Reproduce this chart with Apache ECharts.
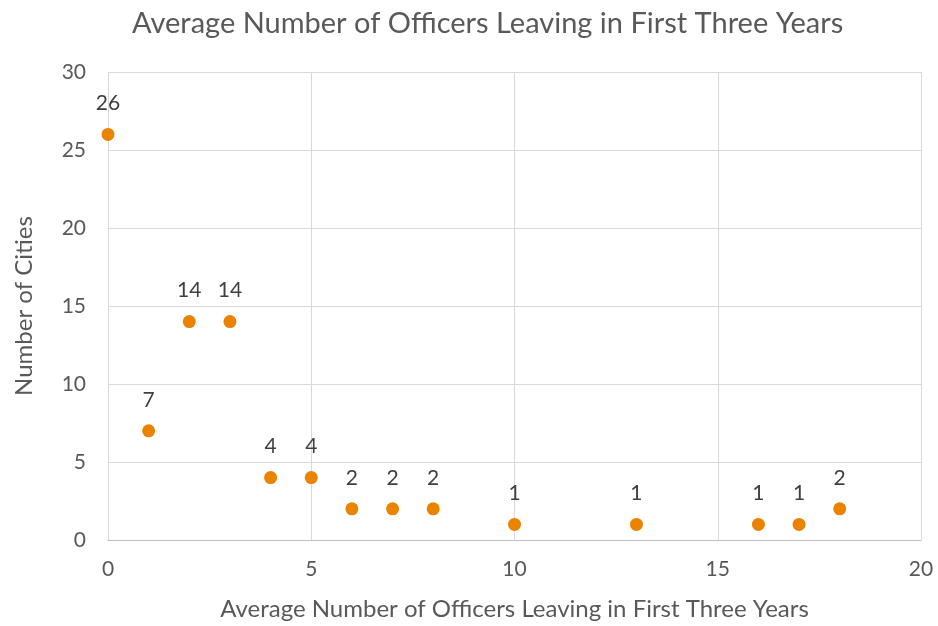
<!DOCTYPE html>
<html>
<head>
<meta charset="utf-8">
<script src="https://cdn.jsdelivr.net/npm/echarts@6/dist/echarts.min.js"></script>
<style>
  html, body { margin: 0; padding: 0; background: #fff; }
  #chart { width: 938px; height: 626px; }
</style>
</head>
<body>
<div id="chart"></div>
<script>
// average officers leaving (x) vs number of cities (y)
const officersLeaving = [0, 1, 2, 3, 4, 5, 6, 7, 8, 10, 13, 16, 17, 18]
const cityCounts = [26, 7, 14, 14, 4, 4, 2, 2, 2, 1, 1, 1, 1, 2]

const font = "Lato, 'Open Sans', sans-serif"
const chart = echarts.init(document.getElementById("chart"))

chart.setOption({
  animation: false,
  textStyle: {fontFamily: font},
  title: {
    text: "Average Number of Officers Leaving in First Three Years",
    left: 127,
    top: 4,
    textStyle: {fontFamily: font, fontSize: 29, fontWeight: "normal", color: "#595959"}
  },
  grid: {left: 108, right: 17, top: 72, bottom: 84},
  xAxis: {
    type: "value",
    min: 0,
    max: 20,
    interval: 5,
    name: "Average Number of Officers Leaving in First Three Years",
    nameLocation: "middle",
    nameGap: 57,
    nameTextStyle: {fontFamily: font, fontSize: 24, color: "#595959"},
    axisLine: {show: true, lineStyle: {color: "#bfbfbf"}},
    axisTick: {show: false},
    axisLabel: {fontSize: 21, color: "#595959", margin: 19},
    splitLine: {show: true, lineStyle: {color: "#d9d9d9"}}
  },
  yAxis: {
    type: "value",
    min: 0,
    max: 30,
    interval: 5,
    name: "Number of Cities",
    nameLocation: "middle",
    nameGap: 72,
    nameTextStyle: {fontFamily: font, fontSize: 24, color: "#595959"},
    axisLine: {show: false},
    axisTick: {show: false},
    axisLabel: {fontSize: 21, color: "#595959", margin: 22},
    splitLine: {show: true, lineStyle: {color: "#d9d9d9"}}
  },
  series: [
    {
      type: "scatter",
      symbolSize: 13,
      itemStyle: {color: "#e98300", opacity: 1},
      label: {
        show: true,
        position: "top",
        distance: 14,
        fontSize: 21,
        color: "#404040",
        formatter: p => p.value[1]
      },
      data: officersLeaving.map((x, i) => [x, cityCounts[i]])
    }
  ]
})
</script>
</body>
</html>
